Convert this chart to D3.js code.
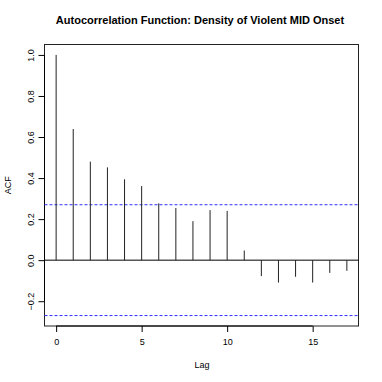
<!DOCTYPE html>
<html>
<head>
<meta charset="utf-8">
<script src="https://cdn.jsdelivr.net/npm/d3@7"></script>
<style>
  body { margin: 0; background: #fff; }
  svg text { font-family: "Liberation Sans", Arial, Helvetica, sans-serif; }
</style>
</head>
<body>
<svg id="chart" width="382" height="382"></svg>
<script>
// ACF values
var lags = [0, 1, 2, 3, 4, 5, 6, 7, 8, 9, 10, 11, 12, 13, 14, 15, 16, 17];
var acf  = [1.0, 0.639, 0.480, 0.452, 0.394, 0.361, 0.277, 0.254, 0.190, 0.244,
            0.240, 0.047, -0.078, -0.109, -0.081, -0.109, -0.062, -0.052];
var ci = 0.27;   // 95% confidence bound
var xTicks = [0, 5, 10, 15];
var yTicks = [-0.2, 0.0, 0.2, 0.4, 0.6, 0.8, 1.0];

var titleText = "Autocorrelation Function: Density of Violent MID Onset";

// plot region
var pLeft = 44.5, pRight = 358.5, pTop = 44.5, pBottom = 326;

var svg = d3.select("#chart");

// R style 4% padding on both scales
var xScale = d3.scaleLinear().domain([-0.68, 17.68]).range([pLeft, pRight]);
var yScale = d3.scaleLinear().domain([-0.3208, 1.0508]).range([pBottom, pTop]);

// title
svg.append("text")
    .attr("x", 200)
    .attr("y", 24)
    .attr("text-anchor", "middle")
    .style("font-size", "11px")
    .style("font-weight", "bold")
    .text(titleText);

// box
svg.append("rect")
    .attr("x", pLeft)
    .attr("y", pTop)
    .attr("width", pRight - pLeft)
    .attr("height", pBottom - pTop)
    .attr("fill", "none")
    .attr("stroke", "#222")
    .attr("stroke-width", 1);

// x axis
var xAxis = d3.axisBottom(xScale).tickValues(xTicks).tickSize(6).tickPadding(7)
    .tickFormat(d3.format("d"));
var gx = svg.append("g")
    .attr("transform", "translate(0," + pBottom + ")")
    .call(xAxis);
gx.select(".domain").remove();
gx.append("line")
    .attr("x1", xScale(xTicks[0])).attr("x2", xScale(xTicks[xTicks.length - 1]))
    .attr("stroke", "#000");
gx.selectAll("text").style("font-size", "9px").attr("fill", "#000");

// y axis, rotated labels like base R
var yAxis = d3.axisLeft(yScale).tickValues(yTicks).tickSize(6)
    .tickFormat(d3.format(".1f"));
var gy = svg.append("g")
    .attr("transform", "translate(" + pLeft + ",0)")
    .call(yAxis);
gy.select(".domain").remove();
gy.append("line")
    .attr("y1", yScale(yTicks[0])).attr("y2", yScale(yTicks[yTicks.length - 1]))
    .attr("stroke", "#000");
gy.selectAll(".tick text")
    .attr("x", null).attr("dy", null)
    .attr("transform", "translate(-10.5,0) rotate(-90)")
    .attr("text-anchor", "middle")
    .style("font-size", "9px")
    .attr("fill", "#000");

// axis titles
svg.append("text")
    .attr("x", 202)
    .attr("y", 367.5)
    .attr("text-anchor", "middle")
    .style("font-size", "9px")
    .text("Lag");
svg.append("text")
    .attr("transform", "translate(10.5," + ((pTop + pBottom) / 2) + ") rotate(-90)")
    .attr("text-anchor", "middle")
    .style("font-size", "9px")
    .text("ACF");

// zero line
svg.append("line")
    .attr("x1", pLeft).attr("x2", pRight)
    .attr("y1", yScale(0)).attr("y2", yScale(0))
    .attr("stroke", "#000");

// confidence bounds
[ci, -ci].forEach(function(v) {
  svg.append("line")
      .attr("x1", pLeft).attr("x2", pRight)
      .attr("y1", yScale(v)).attr("y2", yScale(v))
      .attr("stroke", "#3030ff")
      .attr("stroke-dasharray", "3,2");
});

// spikes
svg.selectAll(".spike")
    .data(lags)
  .enter().append("line")
    .attr("class", "spike")
    .attr("x1", function(d) { return xScale(d); })
    .attr("x2", function(d) { return xScale(d); })
    .attr("y1", yScale(0))
    .attr("y2", function(d, i) { return yScale(acf[i]); })
    .attr("stroke", "#222");
</script>
</body>
</html>
